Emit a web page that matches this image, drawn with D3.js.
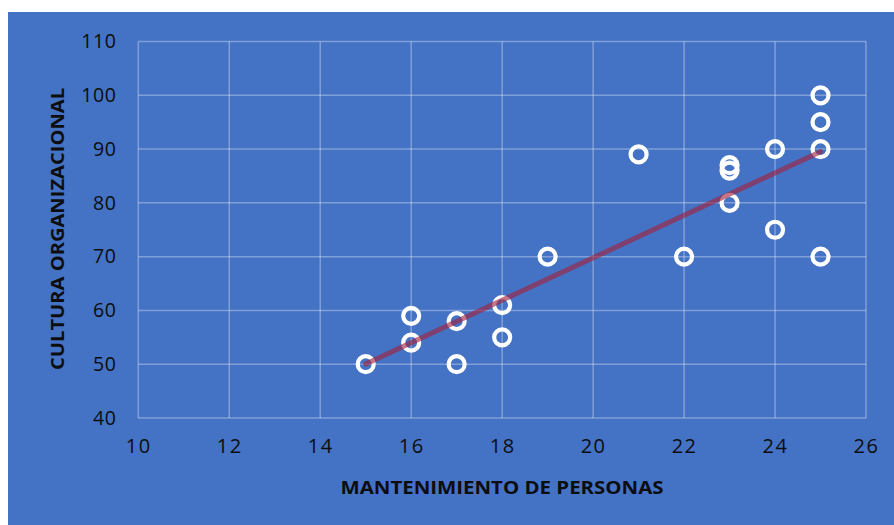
<!DOCTYPE html>
<html>
<head>
<meta charset="utf-8">
<script src="https://cdn.jsdelivr.net/npm/d3@7/dist/d3.min.js"></script>
<style>
  html, body { margin: 0; padding: 0; background: #ffffff; }
  svg { display: block; }
</style>
</head>
<body>
<svg id="chart" width="894" height="525"></svg>
<script>
// Mantenimiento de personas (x) vs. cultura organizacional (y)
const mantenimiento = [15, 16, 16, 17, 17, 18, 18, 19, 21, 22, 23, 23, 23, 24, 24, 25, 25, 25, 25];
const cultura       = [50, 59, 54, 58, 50, 61, 55, 70, 89, 70, 87, 86, 80, 90, 75, 100, 95, 90, 70];
const xTicks = [10, 12, 14, 16, 18, 20, 22, 24, 26];
const yTicks = [40, 50, 60, 70, 80, 90, 100, 110];
const xTitle = "MANTENIMIENTO DE PERSONAS";
const yTitle = "CULTURA ORGANIZACIONAL";

const svg = d3.select("#chart");
const W = 894, H = 525;

// Chart background panel
svg.append("rect").attr("x", 8).attr("y", 12).attr("width", W - 8).attr("height", H - 12)
  .attr("fill", "#4472C4");

const x = d3.scaleLinear().domain([10, 26]).range([138.3, 866]);
const y = d3.scaleLinear().domain([40, 110]).range([418, 41.5]);

const gridColor = "rgba(255,255,255,0.32)";

// Gridlines
svg.append("g").selectAll("line").data(yTicks).join("line")
  .attr("x1", x(10)).attr("x2", x(26))
  .attr("y1", d => y(d)).attr("y2", d => y(d))
  .attr("stroke", gridColor).attr("stroke-width", 1.5);
svg.append("g").selectAll("line").data(xTicks).join("line")
  .attr("x1", d => x(d)).attr("x2", d => x(d))
  .attr("y1", y(40)).attr("y2", y(110))
  .attr("stroke", gridColor).attr("stroke-width", 1.5);

// Axes (labels only)
const xAxis = svg.append("g").attr("transform", `translate(0,${y(40)})`)
  .call(d3.axisBottom(x).tickValues(xTicks).tickSize(0).tickPadding(21));
xAxis.select(".domain").remove();
xAxis.selectAll("text")
  .attr("font-family", "'Open Sans', sans-serif").attr("font-size", 20)
  .attr("letter-spacing", 1.5).attr("fill", "#0d0d0d");

const yAxis = svg.append("g").attr("transform", `translate(${x(10)},0)`)
  .call(d3.axisLeft(y).tickValues(yTicks).tickSize(0).tickPadding(22));
yAxis.select(".domain").remove();
yAxis.selectAll("text")
  .attr("font-family", "'Open Sans', sans-serif").attr("font-size", 19.5)
  .attr("letter-spacing", 0.5).attr("fill", "#0d0d0d");

// Least-squares trend line
const n = mantenimiento.length;
const mx = d3.mean(mantenimiento), my = d3.mean(cultura);
let sxy = 0, sxx = 0;
for (let i = 0; i < n; i++) {
  sxy += (mantenimiento[i] - mx) * (cultura[i] - my);
  sxx += (mantenimiento[i] - mx) ** 2;
}
const slope = sxy / sxx, intercept = my - slope * mx;
const x0 = d3.min(mantenimiento), x1 = d3.max(mantenimiento);

// Points
svg.append("g").selectAll("circle").data(mantenimiento.map((v, i) => [v, cultura[i]])).join("circle")
  .attr("cx", d => x(d[0])).attr("cy", d => y(d[1])).attr("r", 8)
  .attr("fill", "none").attr("stroke", "#ffffff").attr("stroke-width", 4.2);

svg.append("line")
  .attr("x1", x(x0)).attr("y1", y(intercept + slope * x0))
  .attr("x2", x(x1)).attr("y2", y(intercept + slope * x1))
  .attr("stroke", "#A3203A").attr("stroke-opacity", 0.62)
  .attr("stroke-width", 5).attr("stroke-linecap", "round");

// Axis titles
svg.append("text").attr("x", 502).attr("y", 494).attr("text-anchor", "middle")
  .attr("font-family", "'Open Sans', sans-serif").attr("font-weight", 700).attr("font-size", 18)
  .attr("textLength", 323).attr("lengthAdjust", "spacingAndGlyphs")
  .attr("fill", "#0d0d0d").text(xTitle);

svg.append("text").attr("transform", "translate(64,229) rotate(-90)").attr("text-anchor", "middle")
  .attr("font-family", "'Open Sans', sans-serif").attr("font-weight", 700).attr("font-size", 18)
  .attr("textLength", 282).attr("lengthAdjust", "spacingAndGlyphs")
  .attr("fill", "#0d0d0d").text(yTitle);
</script>
</body>
</html>
